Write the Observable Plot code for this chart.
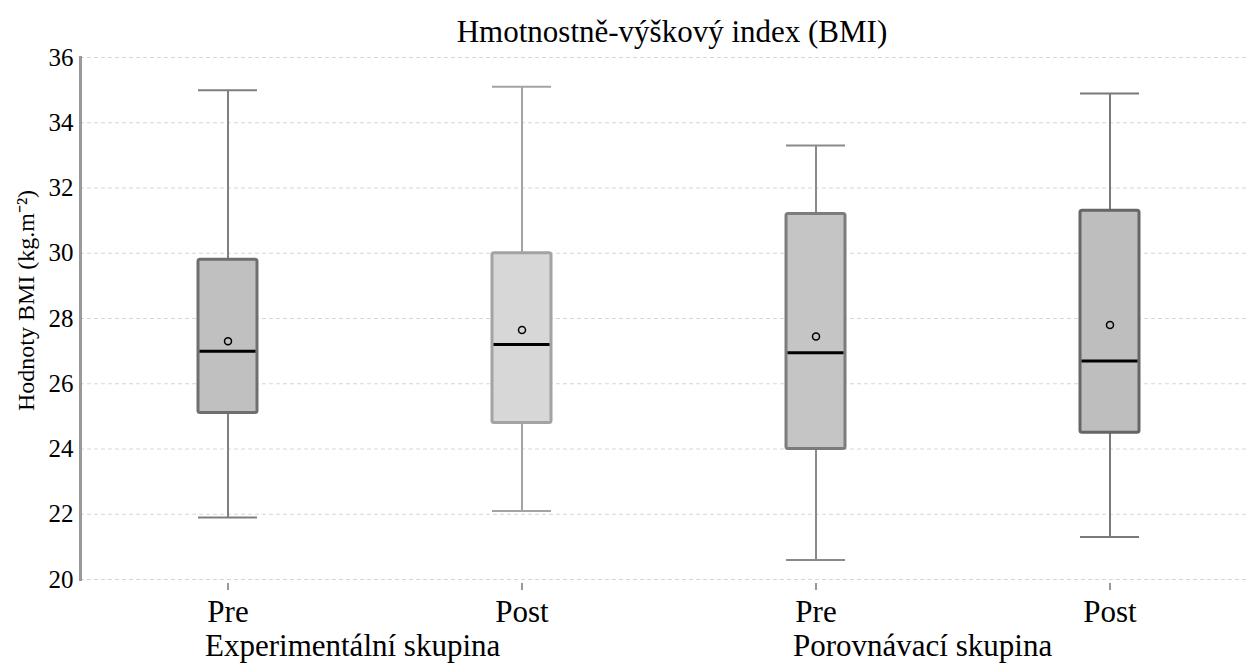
<!DOCTYPE html>
<html>
<head>
<meta charset="utf-8">
<script src="https://cdn.jsdelivr.net/npm/d3@7"></script>
<script src="https://cdn.jsdelivr.net/npm/@observablehq/plot@0.6"></script>
<style>
  html, body { margin: 0; padding: 0; background: #ffffff; }
  #chart svg { display: block; overflow: visible; }
</style>
</head>
<body>
<div id="chart"></div>
<script>
// ---- data ----
const keys = ["E-Pre", "E-Post", "P-Pre", "P-Post"];
const times = ["Pre", "Post", "Pre", "Post"];
const groups = ["Experimentální skupina", "Experimentální skupina", "Porovnávací skupina", "Porovnávací skupina"];
const mins = [21.9, 22.1, 20.6, 21.3];
const q1s = [25.1, 24.8, 24.0, 24.5];
const medians = [27.0, 27.2, 26.95, 26.7];
const means = [27.3, 27.65, 27.45, 27.8];
const q3s = [29.8, 30.0, 31.2, 31.3];
const maxs = [35.0, 35.1, 33.3, 34.9];
const yTicks = [20, 22, 24, 26, 28, 30, 32, 34, 36];
const groupLabels = ["Experimentální skupina", "Porovnávací skupina"];
const groupFirstKeys = ["E-Pre", "P-Pre"];
const titleText = "Hmotnostně-výškový index (BMI)";
const yLabelText = "Hodnoty BMI (kg.m⁻²)";

// ---- styles (kept apart from data) ----
const boxFill = {"E-Pre": "#c0c0c0", "E-Post": "#d7d7d7", "P-Pre": "#c5c5c5", "P-Post": "#bebebe"};
const boxStroke = {"E-Pre": "#6f6f6f", "E-Post": "#a3a3a3", "P-Pre": "#7c7c7c", "P-Post": "#666666"};
const whiskerStroke = {"E-Pre": "#7f7f7f", "E-Post": "#a3a3a3", "P-Pre": "#8a8a8a", "P-Post": "#7a7a7a"};
const FONT = "'Liberation Serif', 'Times New Roman', serif";

const rows = keys.map((k, i) => ({
  key: k, time: times[i], group: groups[i],
  min: mins[i], q1: q1s[i], median: medians[i], mean: means[i], q3: q3s[i], max: maxs[i]
}));
const timeOf = Object.fromEntries(keys.map((k, i) => [k, times[i]]));

const chart = Plot.plot({
  width: 1247,
  height: 666,
  marginTop: 57,
  marginBottom: 87,
  marginLeft: 80,
  marginRight: 0,
  style: {fontFamily: FONT, color: "#000", background: "#fff"},
  x: {type: "band", domain: keys, range: [80, 1256], paddingInner: 0.8, paddingOuter: 0.4, align: 0.5, label: null},
  y: {domain: [20, 36], label: null},
  marks: [
    Plot.gridY(yTicks, {stroke: "#d6d6d6", strokeOpacity: 1, strokeDasharray: "4,3", strokeWidth: 1}),
    Plot.frame({anchor: "left", stroke: "#999999", strokeWidth: 3}),
    Plot.axisY(yTicks, {tickSize: 0, tickPadding: 7, fontSize: 25, fontFamily: FONT, fill: "#000", label: null}),
    Plot.axisX({tickSize: 7, tickPadding: 9, dy: 4, fontSize: 31, fontFamily: FONT, fill: "#000", stroke: "#999999", strokeWidth: 2,
      tickFormat: d => timeOf[d], label: null}),
    // whiskers
    Plot.ruleX(rows, {x: "key", y1: "min", y2: "max", stroke: d => whiskerStroke[d.key], strokeWidth: 2}),
    Plot.tickY(rows, {x: "key", y: "min", stroke: d => whiskerStroke[d.key], strokeWidth: 2}),
    Plot.tickY(rows, {x: "key", y: "max", stroke: d => whiskerStroke[d.key], strokeWidth: 2}),
    // boxes
    Plot.barY(rows, {x: "key", y1: "q1", y2: "q3", fill: d => boxFill[d.key], stroke: d => boxStroke[d.key], strokeWidth: 3, rx: 2}),
    // medians
    Plot.tickY(rows, {x: "key", y: "median", stroke: "#000", strokeWidth: 3, inset: 1.5}),
    // means
    Plot.dot(rows, {x: "key", y: "mean", r: 3.5, stroke: "#000", strokeWidth: 1.5, fill: "none"}),
    // group labels
    Plot.text(groupLabels, {x: (d, i) => groupFirstKeys[i], frameAnchor: "bottom", textAnchor: "start", lineAnchor: "top",
      dx: -23, dy: 54, fontSize: 31, fontFamily: FONT, fill: "#000"}),
    // title
    Plot.text([titleText], {frameAnchor: "top", lineAnchor: "bottom", dy: -16, dx: 8, fontSize: 31, fontFamily: FONT, fill: "#000"}),
    // y label
    Plot.text([yLabelText], {frameAnchor: "left", textAnchor: "middle", lineAnchor: "middle", rotate: -90, dx: -54, dy: -18, fontSize: 24, fontFamily: FONT, fill: "#000"})
  ]
});
document.getElementById("chart").appendChild(chart);
</script>
</body>
</html>
